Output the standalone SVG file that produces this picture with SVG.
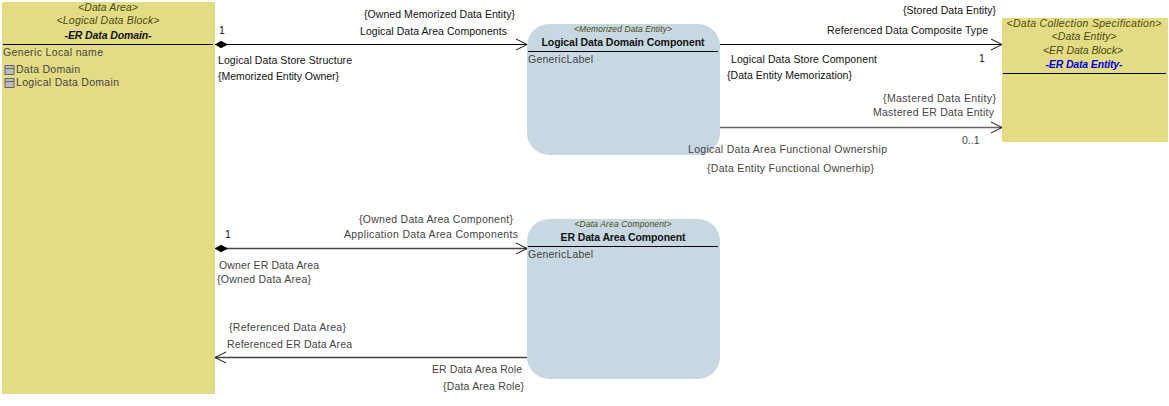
<svg xmlns="http://www.w3.org/2000/svg" width="1169" height="406" viewBox="0 0 1169 406">
<style>
text{font-family:"Liberation Sans",Arial,sans-serif;font-size:10.5px;fill:#111}
.g{fill:#444}
.s{font-style:italic;fill:#4a4a10}
.t{font-style:italic;font-weight:bold;fill:#111}
.c{text-anchor:middle}
.e{text-anchor:end}
.y{fill:#e4dc84}
.b{fill:#c8d8e2}
.l{stroke:#000;stroke-width:1.2;fill:none}
.m{stroke:#444;stroke-width:1.4;fill:none}
.open{fill:none;stroke:#111;stroke-width:1}
.ic{fill:#bbb;stroke:#666;stroke-width:1}
</style>
<defs>
<marker id="arrow" markerUnits="userSpaceOnUse" markerWidth="14" markerHeight="14" refX="12" refY="7" orient="auto"><path class="open" d="M1 1.500L12 7L1 12.500"/></marker>
<marker id="diamond" markerUnits="userSpaceOnUse" markerWidth="16" markerHeight="10" refX="1" refY="5" orient="auto"><path d="M1 5L7 1.200L14 5L7 8.800Z" fill="#000"/></marker>
</defs>
<g id="node-er-data-domain">
<rect class="y" x="2" y="2" width="213" height="392"/>
<text class="c s" x="108" y="11" textLength="60">&lt;Data Area&gt;</text>
<text class="c s" x="108" y="24" textLength="103">&lt;Logical Data Block&gt;</text>
<text class="c t" x="108" y="39" textLength="87">-ER Data Domain-</text>
<path class="l" d="M3 44.500H213"/>
<text class="g" x="3" y="56" textLength="100">Generic Local name</text>
<rect class="ic" x="5" y="65.500" width="9" height="9"/><path class="ic" d="M5 68.500H14"/>
<text class="g" x="16" y="73" textLength="64">Data Domain</text>
<rect class="ic" x="5" y="78.500" width="9" height="9"/><path class="ic" d="M5 81.500H14"/>
<text class="g" x="16" y="86" textLength="103">Logical Data Domain</text>
</g>
<g id="node-logical-data-domain-component">
<rect class="b" x="527" y="24" width="193" height="131" rx="22"/>
<text class="c s" x="623" y="32" style="font-size:8.500px" textLength="98">&lt;Memorized Data Entity&gt;</text>
<text class="c" x="623" y="46" style="font-weight:bold" textLength="163">Logical Data Domain Component</text>
<path class="l" d="M528 51.500H718"/>
<text class="g" x="528" y="63" textLength="65">GenericLabel</text>
</g>
<g id="node-er-data-area-component">
<rect class="b" x="527" y="219" width="193" height="160" rx="22"/>
<text class="c s" x="623" y="227" style="font-size:8.500px" textLength="97">&lt;Data Area Component&gt;</text>
<text class="c" x="623" y="241" style="font-weight:bold" textLength="125">ER Data Area Component</text>
<path class="l" d="M528 246.500H718"/>
<text class="g" x="528" y="258" textLength="65">GenericLabel</text>
</g>
<g id="node-er-data-entity">
<rect class="y" x="1002" y="18" width="166" height="124"/>
<text class="c s" x="1084" y="27" textLength="155">&lt;Data Collection Specification&gt;</text>
<text class="c s" x="1084" y="40" textLength="65">&lt;Data Entity&gt;</text>
<text class="c s" x="1083" y="54" textLength="80">&lt;ER Data Block&gt;</text>
<text class="c t" x="1084" y="68" style="fill:#0000e6" textLength="77">-ER Data Entity-</text>
<path class="l" d="M1003 73.500H1166"/>
</g>
<g id="connectors">
<path class="l" d="M215 44.500H527" marker-start="url(#diamond)" marker-end="url(#arrow)"/>
<path class="l" d="M720 44.500H1002" marker-end="url(#arrow)"/>
<path class="m" style="stroke:#666" d="M720 127.500H1002" marker-end="url(#arrow)"/>
<path class="m" d="M215 248.500H527" marker-start="url(#diamond)" marker-end="url(#arrow)"/>
<path class="m" d="M527 357.500H215" marker-end="url(#arrow)"/>
</g>
<g id="connector-labels">
<text x="219" y="34">1</text>
<text x="218" y="64" textLength="134">Logical Data Store Structure</text>
<text x="218" y="80" textLength="121">{Memorized Entity Owner}</text>
<text class="e" x="515" y="18" textLength="151">{Owned Memorized Data Entity}</text>
<text class="e" x="507" y="35" textLength="147">Logical Data Area Components</text>
<text x="731" y="63" textLength="146">Logical Data Store Component</text>
<text x="727" y="79" textLength="125">{Data Entity Memorization}</text>
<text class="e" x="996" y="14" textLength="93">{Stored Data Entity}</text>
<text class="e" x="988" y="34" textLength="161">Referenced Data Composite Type</text>
<text x="979" y="62">1</text>
<text class="e g" x="996" y="102" textLength="113">{Mastered Data Entity}</text>
<text class="e g" x="994" y="116" textLength="121">Mastered ER Data Entity</text>
<text class="g" x="962" y="144">0..1</text>
<text class="g" x="688" y="153" textLength="199">Logical Data Area Functional Ownership</text>
<text class="g" x="707" y="172" textLength="167">{Data Entity Functional Ownerhip}</text>
<text x="225" y="238">1</text>
<text class="e g" x="513" y="223" textLength="154">{Owned Data Area Component}</text>
<text class="e g" x="518" y="238" textLength="174">Application Data Area Components</text>
<text class="g" x="219" y="269" textLength="100">Owner ER Data Area</text>
<text class="g" x="217" y="283" textLength="94">{Owned Data Area}</text>
<text class="g" x="229" y="331" textLength="117">{Referenced Data Area}</text>
<text class="g" x="227" y="348" textLength="125">Referenced ER Data Area</text>
<text class="e g" x="522" y="373" textLength="90">ER Data Area Role</text>
<text class="e g" x="524" y="390" textLength="81">{Data Area Role}</text>
</g>
</svg>
